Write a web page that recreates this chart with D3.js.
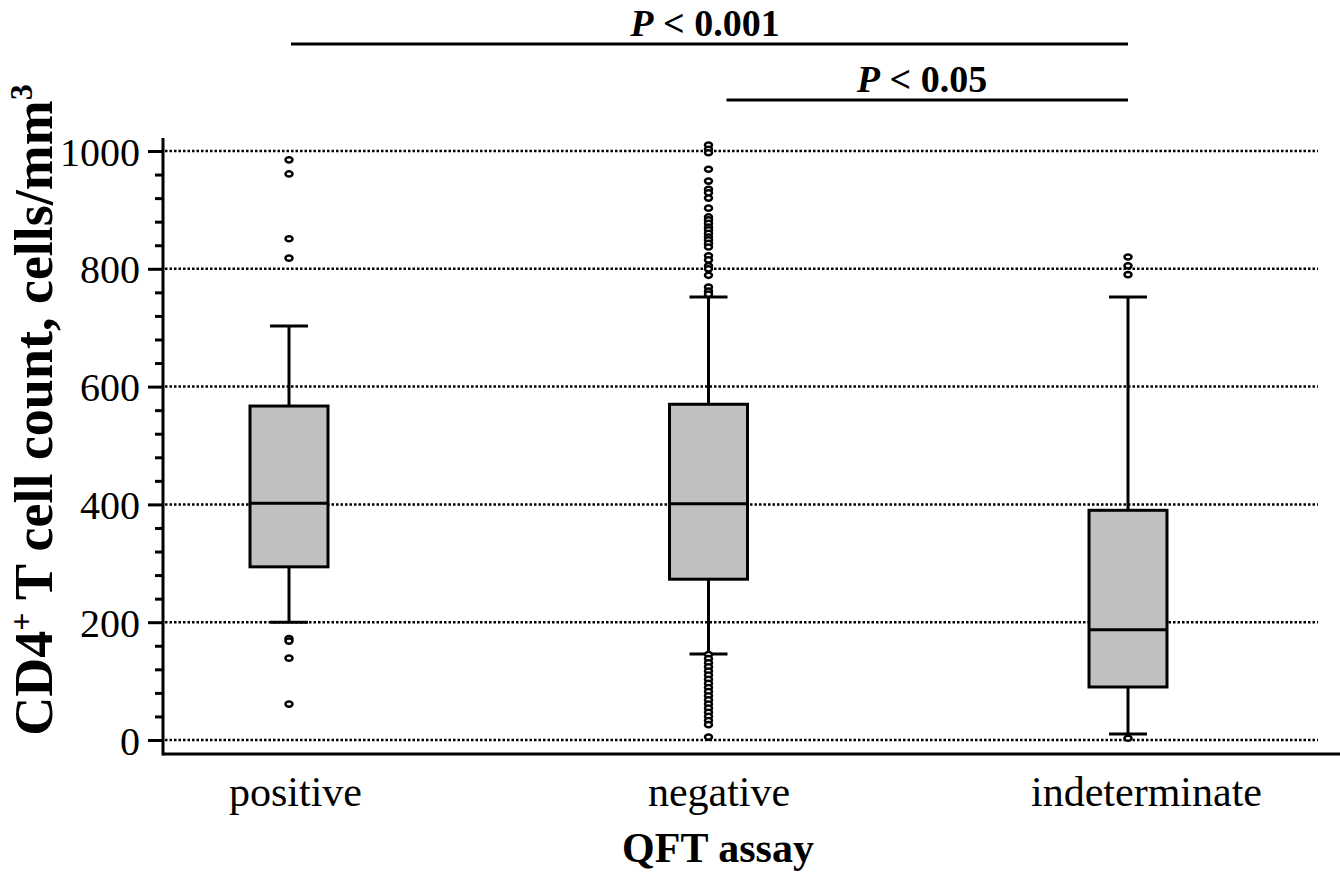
<!DOCTYPE html>
<html>
<head>
<meta charset="utf-8">
<script src="https://cdn.jsdelivr.net/npm/d3@7"></script>
<style>
  body { margin: 0; background: #fff; }
  svg text { font-family: "Liberation Serif", "Times New Roman", serif; fill: #000; }
</style>
</head>
<body>
<div id="chart"></div>
<script>
//CONSTANTS AND GLOBALS
const width = 1340, height = 873;

// DATA
const categories = ["positive", "negative", "indeterminate"];
const q1 = [294, 273, 90];
const medians = [402, 401, 187];
const q3 = [567, 570, 390];
const whiskerLow = [200, 146, 10];
const whiskerHigh = [703, 752, 752];
const outliers = [
  [985, 961, 851, 818, 172, 168, 139, 61],
  [1010, 1003, 997, 969, 949, 935, 929, 920, 903, 888, 883, 877, 871, 866, 860, 854, 849,
   843, 837, 822, 815, 805, 800, 789, 769, 762, 757,
   145, 138, 131, 124, 117, 110, 103, 96, 89, 82, 75, 68, 61, 54, 47, 40, 33, 26, 5],
  [820, 805, 790, 3]
];
const yTicks = [0, 200, 400, 600, 800, 1000];
const comparisons = [
  { from: "positive", to: "indeterminate", label: " < 0.001" },
  { from: "negative", to: "indeterminate", label: " < 0.05" }
];

let svg, xScale, yScale;

init();

function init() {
  // SCALES
  yScale = d3.scaleLinear().domain([0, 1000]).range([740, 151]);
  xScale = d3.scalePoint().domain(categories).range([289, 1128]);

  svg = d3.select("#chart").append("svg")
    .attr("width", width)
    .attr("height", height);

  const axisX = 163, axisY = 754;

  // dotted gridlines
  svg.append("g")
    .selectAll("line")
    .data(yTicks)
    .join("line")
    .attr("x1", axisX + 2)
    .attr("x2", 1318)
    .attr("y1", d => yScale(d))
    .attr("y2", d => yScale(d))
    .attr("stroke", "#000")
    .attr("stroke-width", 2.5)
    .attr("stroke-dasharray", "2.5,2");

  // minor ticks
  const minor = d3.range(0, 1001, 40).filter(v => !yTicks.includes(v));
  svg.append("g")
    .attr("transform", `translate(${axisX},0)`)
    .call(d3.axisLeft(yScale).tickValues(minor).tickSize(8).tickFormat(""))
    .call(g => g.select(".domain").remove())
    .call(g => g.selectAll("line").attr("stroke-width", 3));

  // major ticks + labels
  svg.append("g")
    .attr("transform", `translate(${axisX},0)`)
    .call(d3.axisLeft(yScale).tickValues(yTicks).tickSize(15).tickPadding(8).tickFormat(d3.format("d")))
    .attr("font-family", null)
    .call(g => g.select(".domain").remove())
    .call(g => g.selectAll("line").attr("stroke-width", 3))
    .call(g => g.selectAll("text")
      .attr("font-size", 40)
      .attr("dy", "0.35em"));

  // axis lines
  svg.append("line")
    .attr("x1", axisX).attr("x2", axisX)
    .attr("y1", 138).attr("y2", axisY + 1.5)
    .attr("stroke", "#000").attr("stroke-width", 3);
  svg.append("line")
    .attr("x1", axisX).attr("x2", width)
    .attr("y1", axisY).attr("y2", axisY)
    .attr("stroke", "#000").attr("stroke-width", 3);

  // x labels
  const labelShift = { positive: 6, negative: 10, indeterminate: 18 };
  svg.append("g")
    .attr("transform", `translate(0,${axisY})`)
    .call(d3.axisBottom(xScale).tickSize(0).tickPadding(0))
    .attr("font-family", null)
    .call(g => g.select(".domain").remove())
    .call(g => g.selectAll("text")
      .attr("font-size", 42)
      .attr("dy", 0)
      .attr("y", 52)
      .attr("x", d => labelShift[d]));

  // axis titles
  svg.append("text")
    .attr("x", 718)
    .attr("y", 862)
    .attr("text-anchor", "middle")
    .attr("font-size", 42)
    .attr("font-weight", "bold")
    .text("QFT assay");

  const yt = svg.append("text")
    .attr("transform", "translate(52,410) rotate(-90)")
    .attr("text-anchor", "middle")
    .attr("font-size", 54)
    .attr("font-weight", "bold");
  yt.append("tspan").text("CD4");
  yt.append("tspan").attr("font-size", 32).attr("dy", -20).text("+");
  yt.append("tspan").attr("dy", 20).text(" T cell count, cells/mm");
  yt.append("tspan").attr("font-size", 32).attr("dy", -20).text("3");

  // boxes
  const boxW = 78, capW = 38;
  const rows = categories.map((c, i) => ({
    cat: c, q1: q1[i], med: medians[i], q3: q3[i],
    lo: whiskerLow[i], hi: whiskerHigh[i], out: outliers[i]
  }));

  const g = svg.append("g")
    .selectAll("g")
    .data(rows)
    .join("g")
    .attr("transform", d => `translate(${xScale(d.cat)},0)`);

  // whisker stems
  g.append("line")
    .attr("y1", d => yScale(d.hi)).attr("y2", d => yScale(d.lo))
    .attr("stroke", "#000").attr("stroke-width", 3);
  // caps
  g.selectAll(".cap")
    .data(d => [d.hi, d.lo])
    .join("line")
    .attr("class", "cap")
    .attr("x1", -capW / 2).attr("x2", capW / 2)
    .attr("y1", v => yScale(v)).attr("y2", v => yScale(v))
    .attr("stroke", "#000").attr("stroke-width", 3);
  // box
  g.append("rect")
    .attr("x", -boxW / 2)
    .attr("width", boxW)
    .attr("y", d => yScale(d.q3))
    .attr("height", d => yScale(d.q1) - yScale(d.q3))
    .attr("fill", "#c0c0c0")
    .attr("stroke", "#000")
    .attr("stroke-width", 3);
  // median
  g.append("line")
    .attr("x1", -boxW / 2).attr("x2", boxW / 2)
    .attr("y1", d => yScale(d.med)).attr("y2", d => yScale(d.med))
    .attr("stroke", "#000").attr("stroke-width", 3);
  // outliers
  g.selectAll(".out")
    .data(d => d.out)
    .join("ellipse")
    .attr("class", "out")
    .attr("cx", 0)
    .attr("cy", v => yScale(v))
    .attr("rx", 3.5)
    .attr("ry", 2.6)
    .attr("fill", "#fff")
    .attr("stroke", "#000")
    .attr("stroke-width", 2.5);

  // significance bars
  const barY = [44, 100];
  const barX0 = [xScale("positive") + 2, xScale("negative") + 18];
  comparisons.forEach((c, i) => {
    const x0 = barX0[i], x1 = xScale(c.to);
    svg.append("line")
      .attr("x1", x0).attr("x2", x1)
      .attr("y1", barY[i]).attr("y2", barY[i])
      .attr("stroke", "#000").attr("stroke-width", 3);
    const t = svg.append("text")
      .attr("x", i === 0 ? 705 : 922)
      .attr("y", barY[i] - 8)
      .attr("text-anchor", "middle")
      .attr("font-size", 38)
      .attr("font-weight", "bold");
    t.append("tspan").attr("font-style", "italic").text("P");
    t.append("tspan").text(c.label);
  });
}
</script>
</body>
</html>
